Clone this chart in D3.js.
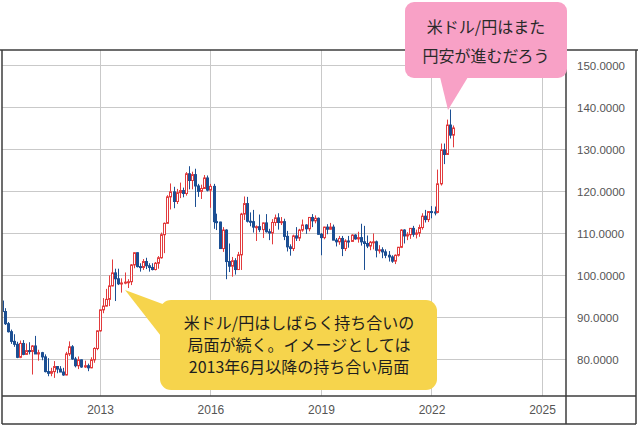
<!DOCTYPE html>
<html><head><meta charset="utf-8">
<script src="https://cdn.jsdelivr.net/npm/d3@7/dist/d3.min.js"></script>
<style>html,body{margin:0;padding:0;background:#fff;}svg{display:block;}</style>
</head><body>
<svg id="c" width="638" height="427"></svg>
<script>
// ---- data (monthly USD/JPY, from May 2010) ----
const startMonth = "2010-05";
const opens = [93.8,91.3,88.4,86.5,84.2,83.5,80.4,83.7,
81.1,82.0,81.8,83.1,81.2,81.5,80.5,77.0,76.6,77.0,78.2,77.6,
76.9,76.2,81.2,82.9,80.0,78.4,79.8,78.1,78.4,77.9,79.8,82.5,
86.7,91.7,92.6,94.2,97.4,100.5,99.1,97.9,98.1,98.3,98.4,102.4,
105.3,102.0,101.8,103.2,102.2,101.8,101.3,102.8,104.1,109.6,112.3,118.6,
119.8,117.5,119.6,120.1,119.4,124.1,122.5,123.9,121.2,119.9,120.6,123.1,
120.2,121.1,112.7,112.6,106.3,110.7,103.2,102.1,103.4,101.3,104.8,114.5,
117.0,112.8,112.7,111.4,111.5,110.8,112.4,110.3,110.0,112.5,113.6,112.5,
112.7,109.2,106.7,106.3,109.3,108.8,110.7,111.9,111.0,113.7,112.9,113.5,
109.7,108.9,111.4,110.9,111.4,108.3,107.9,108.7,106.3,108.1,108.0,109.5,
108.6,108.9,107.9,107.5,106.9,107.8,107.9,105.9,106.0,105.5,104.7,104.3,
103.3,104.7,106.6,110.7,109.3,109.6,111.1,109.7,110.0,111.3,114.0,113.2,
115.1,115.0,114.9,121.7,129.8,128.7,135.7,133.3];
const highs = [95.0,92.1,88.8,87.0,85.9,84.1,84.4,84.5,
83.7,84.0,83.3,85.5,82.2,81.7,81.1,80.2,77.9,79.5,78.3,78.3,
77.9,81.7,84.2,83.3,80.5,80.6,79.9,79.6,78.9,80.4,82.8,86.8,
91.8,94.5,96.7,99.9,103.7,101.5,101.5,99.2,100.6,99.0,102.6,105.4,
105.4,102.8,103.8,104.1,102.8,102.8,103.1,104.5,110.1,112.5,119.0,121.8,
121.0,120.5,122.0,120.8,124.5,125.9,124.6,125.3,121.7,121.5,123.8,123.7,
121.7,121.7,114.6,112.7,111.4,110.9,107.5,104.3,104.0,105.5,114.8,118.7,
118.6,114.9,115.5,111.8,114.4,112.5,114.5,111.0,113.3,114.4,114.7,113.8,
113.4,110.5,107.3,109.6,111.4,111.0,113.2,112.1,113.8,114.5,114.2,113.7,
110.0,111.5,112.1,112.4,112.0,108.8,109.3,109.3,108.5,109.3,109.7,109.7,
110.3,112.2,111.7,109.4,108.1,109.9,108.2,107.1,106.6,106.1,105.7,104.7,
104.9,106.7,110.9,110.9,110.2,111.1,111.7,110.8,112.0,114.7,115.5,115.2,
116.4,116.3,125.1,131.3,131.3,137.0,139.4,135.6];
const lows = [88.1,88.1,86.3,83.6,82.9,80.2,80.2,80.9,
81.0,81.1,76.3,81.4,79.6,79.7,76.8,75.9,75.9,75.5,76.6,76.9,
76.0,76.1,80.7,79.8,78.0,77.6,77.9,77.9,77.1,77.8,79.1,82.1,
86.5,90.9,92.5,92.6,97.3,93.8,97.6,95.8,97.8,96.9,97.6,101.6,
101.8,100.8,101.2,101.4,100.8,101.1,101.1,101.5,103.9,105.2,112.3,115.6,
115.9,116.9,118.3,118.5,118.9,120.4,120.4,116.2,118.6,118.1,120.5,119.9,
116.0,111.0,110.7,106.2,105.5,99.0,100.7,99.6,100.1,101.2,101.2,113.1,
112.5,111.6,110.1,108.1,110.2,108.8,110.1,108.3,107.3,111.7,110.8,111.9,
108.3,105.6,104.6,105.7,108.1,108.1,110.3,109.8,110.4,111.4,112.3,109.6,
104.7,108.5,109.7,110.8,108.3,106.8,107.2,104.5,105.7,106.5,107.9,108.4,
107.7,107.0,101.2,106.4,105.9,106.1,104.2,105.1,104.0,104.0,103.2,102.9,
102.6,104.4,106.4,107.5,108.3,108.6,109.1,108.7,109.1,110.8,112.5,112.6,
113.5,114.2,114.7,121.3,126.4,128.6,132.5,130.4];
const closes = [91.3,88.4,86.5,84.2,83.5,80.4,83.7,81.1,
82.0,81.8,83.1,81.2,81.5,80.5,77.0,76.6,77.0,78.2,77.6,76.9,
76.2,81.2,82.9,80.0,78.4,79.8,78.1,78.4,77.9,79.8,82.5,86.7,
91.7,92.6,94.2,97.4,100.5,99.1,97.9,98.1,98.3,98.4,102.4,105.3,
102.0,101.8,103.2,102.2,101.8,101.3,102.8,104.1,109.6,112.3,118.6,119.8,
117.5,119.6,120.1,119.4,124.1,122.5,123.9,121.2,119.9,120.6,123.1,120.2,
121.1,112.7,112.6,106.3,110.7,103.2,102.1,103.4,101.3,104.8,114.5,117.0,
112.8,112.7,111.4,111.5,110.8,112.4,110.3,110.0,112.5,113.6,112.5,112.7,
109.2,106.7,106.3,109.3,108.8,110.7,111.9,111.0,113.7,112.9,113.5,109.7,
108.9,111.4,110.9,111.4,108.3,107.9,108.7,106.3,108.1,108.0,109.5,108.6,
108.9,107.9,107.5,106.9,107.8,107.9,105.9,106.0,105.5,104.7,104.3,103.3,
104.7,106.6,110.7,109.3,109.6,111.1,109.7,110.0,111.3,114.0,113.2,115.1,
115.0,114.9,121.7,129.8,128.7,135.7,133.3,135.0];
const yTicks = [80,90,100,110,120,130,140,150];
const xTickYears = [2013,2016,2019,2022,2025];
const noteTop = ["米ドル/円はまた","円安が進むだろう"];
const noteBottom = ["米ドル/円はしばらく持ち合いの","局面が続く。イメージとしては","2013年6月以降の持ち合い局面"];

// ---- layout ----
const svg = d3.select("#c");
const P = {left:2, top:50, right:566, bottom:396, outerR:636, outerB:424};
const RED = "#e23b3d", BLUE = "#1c4f93", GRID = "#c9c9c9", FRAME = "#3c3c3c";

const x = d3.scaleTime()
  .domain([new Date(2013,0,1), new Date(2025,0,1)])
  .range([100, 542]);
const y = d3.scaleLinear().domain([80,140]).range([359,107]);

const start = d3.timeParse("%Y-%m")(startMonth);
const data = opens.map((o,i)=>({date:d3.timeMonth.offset(start,i), o, h:highs[i], l:lows[i], c:closes[i]}));

svg.append("rect").attr("x",0).attr("y",0).attr("width",638).attr("height",427).attr("fill","#fff");

// gridlines
const grid = svg.append("g");
grid.selectAll("line.h").data(yTicks).join("line")
  .attr("x1",P.left).attr("x2",P.right)
  .attr("y1",d=>Math.round(y(d))+0.5).attr("y2",d=>Math.round(y(d))+0.5)
  .attr("stroke",GRID).attr("stroke-width",1);
grid.selectAll("line.v").data(xTickYears).join("line")
  .attr("y1",P.top).attr("y2",P.bottom)
  .attr("x1",d=>Math.round(x(new Date(d,0,1)))+0.5).attr("x2",d=>Math.round(x(new Date(d,0,1)))+0.5)
  .attr("stroke",GRID).attr("stroke-width",1);

// candles
svg.append("defs").append("clipPath").attr("id","plotclip")
  .append("rect").attr("x",P.left+1).attr("y",P.top+1).attr("width",P.right-P.left-2).attr("height",P.bottom-P.top-2);
const cg = svg.append("g").attr("clip-path","url(#plotclip)");
const candle = cg.selectAll("g.k").data(data).join("g");
candle.append("line")
  .attr("x1",d=>Math.round(x(d.date))+0.5).attr("x2",d=>Math.round(x(d.date))+0.5)
  .attr("y1",d=>y(d.h)).attr("y2",d=>y(d.l))
  .attr("stroke",d=>d.c>=d.o?RED:BLUE).attr("stroke-width",1);
candle.append("rect")
  .attr("x",d=>Math.round(x(d.date))-0.5).attr("width",2)
  .attr("y",d=>y(Math.max(d.o,d.c)))
  .attr("height",d=>Math.max(1,Math.abs(y(d.o)-y(d.c))))
  .attr("fill",d=>d.c>=d.o?"#fff":BLUE)
  .attr("stroke",d=>d.c>=d.o?RED:BLUE).attr("stroke-width",1);

// frame
const fr = svg.append("g").attr("stroke",FRAME).attr("stroke-width",1.5);
fr.append("line").attr("x1",0).attr("x2",638).attr("y1",P.top).attr("y2",P.top);
fr.append("line").attr("x1",P.left).attr("x2",P.left).attr("y1",P.top).attr("y2",P.outerB);
fr.append("line").attr("x1",P.outerR).attr("x2",P.outerR).attr("y1",P.top).attr("y2",P.outerB);
fr.append("line").attr("x1",P.left).attr("x2",P.outerR).attr("y1",P.outerB).attr("y2",P.outerB);
fr.append("line").attr("x1",P.right).attr("x2",P.right).attr("y1",P.top).attr("y2",P.outerB);
fr.append("line").attr("x1",P.left).attr("x2",P.outerR).attr("y1",P.bottom).attr("y2",P.bottom);

// y axis labels
const yAxis = d3.axisRight(y).tickValues(yTicks).tickFormat(d3.format(".4f")).tickSize(0).tickPadding(0);
const yg = svg.append("g").attr("transform",`translate(577,0)`).call(yAxis);
yg.select(".domain").remove();
yg.selectAll("text").attr("font-family","'Liberation Sans', Arial, sans-serif").attr("font-size","11.5px").attr("fill","#555").attr("dy","0.35em");

// x axis labels
const xAxis = d3.axisBottom(x).tickValues(xTickYears.map(v=>new Date(v,0,1))).tickFormat(d3.timeFormat("%Y")).tickSize(0).tickPadding(0);
const xg = svg.append("g").attr("transform",`translate(0,410)`).call(xAxis);
xg.select(".domain").remove();
xg.selectAll("text").attr("font-family","'Liberation Sans', Arial, sans-serif").attr("font-size","12px").attr("fill","#555").attr("dy","0.35em");

// pink callout
const pink = "#f8a1c6";
svg.append("path").attr("d","M440,77 L448,110 L468,77 Z").attr("fill",pink);
svg.append("rect").attr("x",405).attr("y",2).attr("width",162).attr("height",76).attr("rx",9).attr("fill",pink);
svg.append("g").selectAll("text").data(noteTop).join("text")
  .attr("x",486).attr("y",(d,i)=>26+i*29).attr("text-anchor","middle").attr("dominant-baseline","central")
  .attr("font-family","'Noto Sans CJK JP', sans-serif").attr("font-size","16px").attr("fill","#2a2a2a").text(d=>d);

// yellow callout
const yel = "#f6d44c";
svg.append("path").attr("d","M125,290 L168,306 L168,345 Z").attr("fill",yel);
svg.append("rect").attr("x",160).attr("y",300).attr("width",277).attr("height",90).attr("rx",11).attr("fill",yel);
svg.append("g").selectAll("text").data(noteBottom).join("text")
  .attr("x",299).attr("y",(d,i)=>322+i*22).attr("text-anchor","middle").attr("dominant-baseline","central")
  .attr("font-family","'Noto Sans CJK JP', sans-serif").attr("font-size","16px").attr("fill","#1e1e1e").text(d=>d);
</script>
</body></html>
